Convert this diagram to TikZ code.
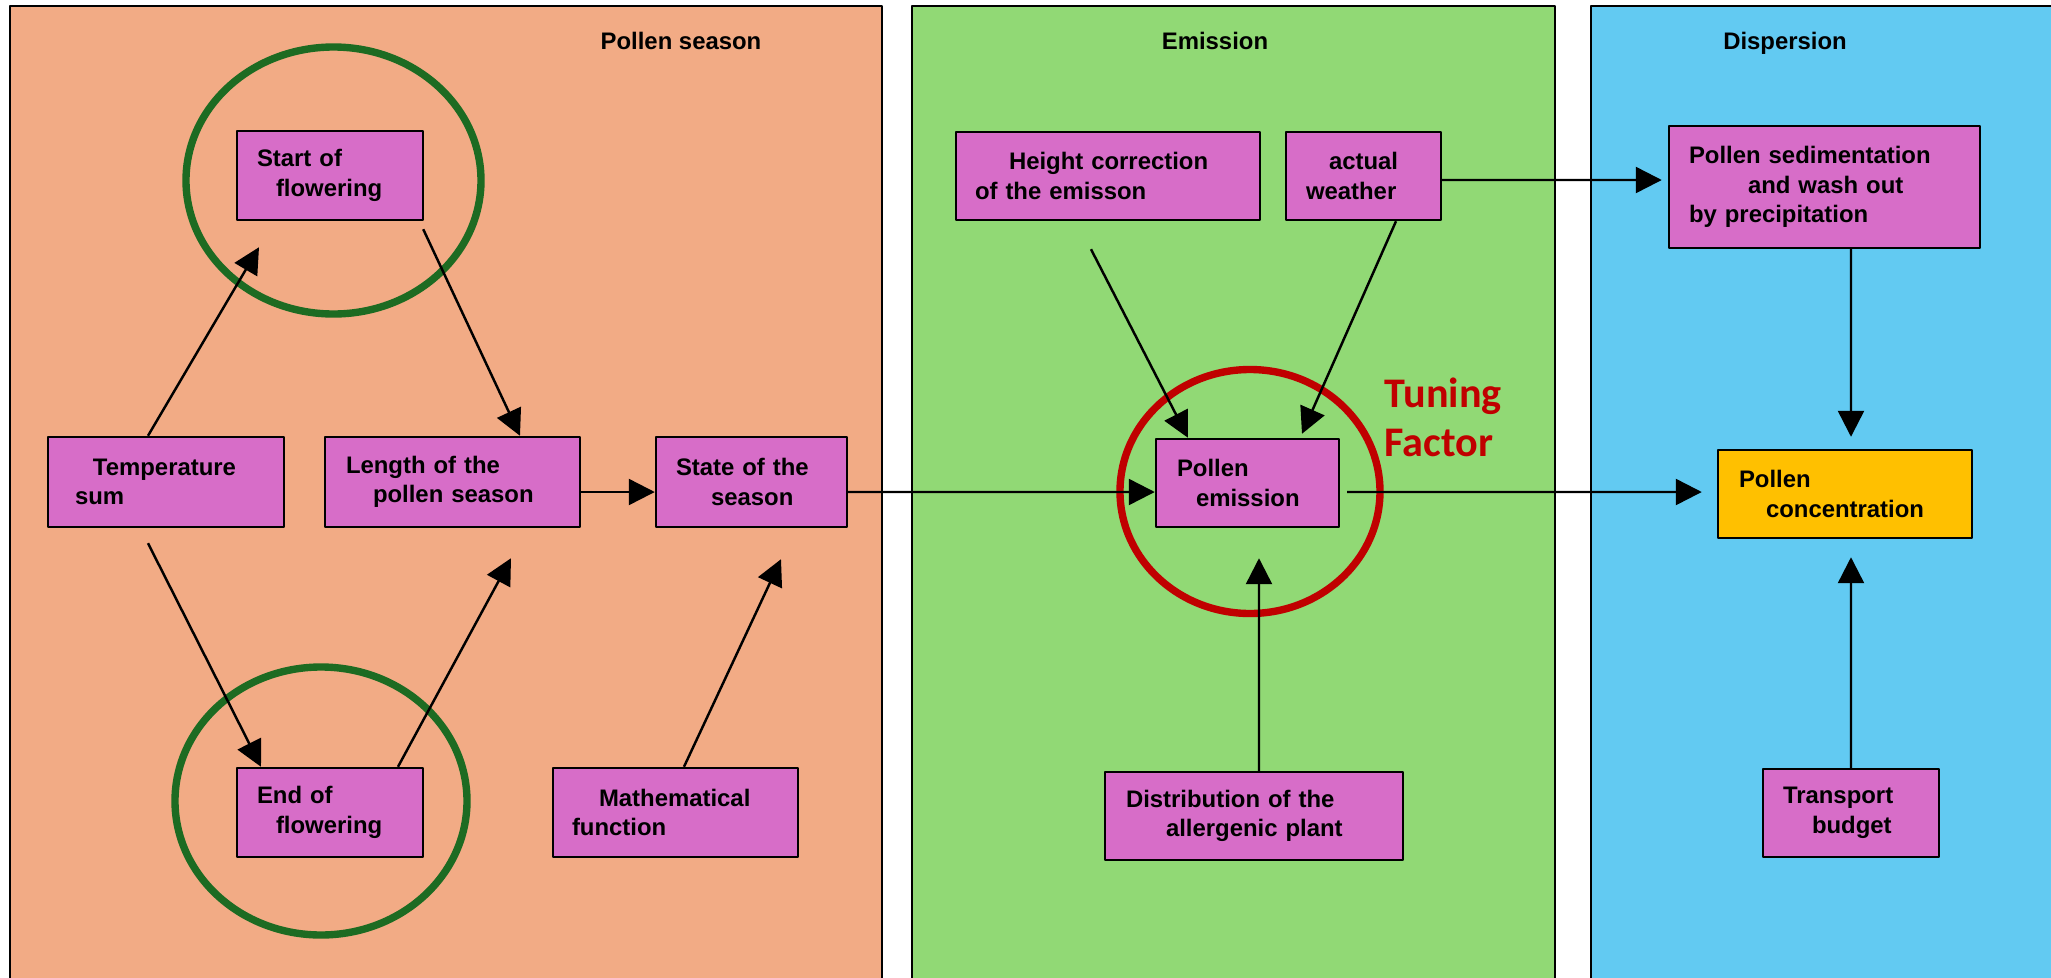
\documentclass[tikz,border=0pt]{standalone}
\usepackage{fontspec}
\setmainfont{Liberation Sans}
\newfontfamily\tunefont{Carlito}
\usetikzlibrary{arrows.meta}

\definecolor{seasonbg}{RGB}{242,171,133}
\definecolor{emisbg}{RGB}{145,217,117}
\definecolor{dispbg}{RGB}{98,202,242}
\definecolor{boxpink}{RGB}{215,109,200}
\definecolor{concbg}{RGB}{255,192,0}
\definecolor{tunered}{RGB}{192,0,0}
\definecolor{ringgreen}{RGB}{29,107,34}

\begin{document}
\begin{tikzpicture}[>={Triangle[length=2.6mm,width=2.6mm]}, line join=round,
  box/.style={draw, fill=boxpink, line width=0.7pt, align=left, inner ysep=0pt,
    font=\fontsize{6.8}{8.4}\selectfont\bfseries},
  title/.style={anchor=base, font=\fontsize{6.8}{8.4}\selectfont\bfseries},
  ring/.style={line width=2.1pt},
  link/.style={->, line width=0.7pt}]

  \useasboundingbox (0,0) rectangle (20.51,-9.78);

  %--------------------------
  % Panels
  %--------------------------
  \filldraw[fill=seasonbg, line width=0.6pt] (0.10,-0.06) rectangle (8.82,-10.2);
  \filldraw[fill=emisbg, line width=0.6pt] (9.12,-0.06) rectangle (15.55,-10.2);
  \filldraw[fill=dispbg, line width=0.6pt] (15.91,-0.06) rectangle (21.2,-10.2);

  \node[title] (seasontitle) at (6.81,-0.49) {Pollen season};
  \node[title] (emistitle) at (12.15,-0.49) {Emission};
  \node[title] (disptitle) at (17.85,-0.49) {Dispersion};

  %--------------------------
  % Pollen season
  %--------------------------
  \node[box, text width=1.46cm, inner xsep=0.20cm, minimum height=0.89cm] (start) at (3.30,-1.755) {Start of\\\hspace*{0.19cm}flowering};
  \node[box, text width=1.82cm, inner xsep=0.27cm, minimum height=0.90cm] (temp) at (1.66,-4.82) {\hspace*{0.18cm}Temperature\\sum};
  \node[box, text width=2.13cm, inner xsep=0.21cm, minimum height=0.90cm] (len) at (4.525,-4.82) {Length of the\\\hspace*{0.27cm}pollen season};
  \node[box, text width=1.51cm, inner xsep=0.20cm, minimum height=0.90cm] (state) at (7.515,-4.82) {State of the\\\hspace*{0.35cm}season};
  \node[box, text width=1.46cm, inner xsep=0.20cm, minimum height=0.89cm] (endf) at (3.30,-8.125) {End of\\\hspace*{0.19cm}flowering};
  \node[box, text width=2.07cm, inner xsep=0.19cm, minimum height=0.89cm] (math) at (6.755,-8.125) {\hspace*{0.27cm}Mathematical\\function};

  \draw[ring, ringgreen] (3.335,-1.805) ellipse (1.475 and 1.335);
  \draw[ring, ringgreen] (3.21,-8.01) ellipse (1.46 and 1.34);

  \draw[link] ([xshift=-0.18cm]temp.north) -- ([xshift=-0.71cm,yshift=-0.26cm]start.south);
  \draw[link] ([xshift=-0.01cm,yshift=-0.08cm]start.south east) -- ([xshift=0.675cm]len.north);
  \draw[link] ([xshift=-0.18cm,yshift=-0.15cm]temp.south) -- ([xshift=-0.69cm]endf.north);
  \draw[link] ([xshift=0.68cm]endf.north) -- ([xshift=0.585cm,yshift=-0.30cm]len.south);
  \draw[link] ([xshift=0.085cm]math.north) -- ([xshift=0.295cm,yshift=-0.31cm]state.south);
  \draw[link] ([yshift=-0.10cm]len.east) -- ([yshift=-0.10cm]state.west);

  %--------------------------
  % Emission
  %--------------------------
  \node[box, text width=2.66cm, inner xsep=0.19cm, minimum height=0.88cm] (height) at (11.08,-1.76) {\hspace*{0.34cm}Height correction\\of the emisson};
  \node[box, text width=1.15cm, inner xsep=0.20cm, minimum height=0.88cm] (weather) at (13.635,-1.76) {\hspace*{0.23cm}actual\\weather};
  \node[box, text width=1.41cm, inner xsep=0.21cm, minimum height=0.88cm] (emis) at (12.475,-4.83) {Pollen\\\hspace*{0.19cm}emission};
  \node[box, text width=2.56cm, inner xsep=0.21cm, minimum height=0.88cm] (distr) at (12.54,-8.16) {Distribution of the\\\hspace*{0.40cm}allergenic plant};

  \draw[ring, tunered] (12.50,-4.915) ellipse (1.30 and 1.22);
  \node[anchor=west, inner sep=0pt, align=left, text=tunered,
    font=\tunefont\fontsize{12}{14}\selectfont\bfseries] (tune) at (13.84,-4.175) {Tuning\\Factor};

  \draw[link] ([yshift=-0.10cm]state.east) -- ([yshift=-0.09cm]emis.west);
  \draw[link] ([xshift=-0.17cm,yshift=-0.28cm]height.south) -- ([xshift=-0.595cm]emis.north);
  \draw[link] ([xshift=0.325cm]weather.south) -- ([xshift=0.545cm,yshift=0.04cm]emis.north);
  \draw[link] ([xshift=0.05cm]distr.north) -- ([xshift=0.115cm,yshift=-0.30cm]emis.south);

  %--------------------------
  % Dispersion
  %--------------------------
  \node[box, text width=2.71cm, inner xsep=0.20cm, minimum height=1.22cm] (sedim) at (18.245,-1.87) {Pollen sedimentation\\\hspace*{0.59cm}and wash out\\by precipitation};
  \node[box, fill=concbg, text width=2.12cm, inner xsep=0.21cm, minimum height=0.88cm] (conc) at (18.45,-4.94) {Pollen\\\hspace*{0.27cm}concentration};
  \node[box, text width=1.36cm, inner xsep=0.20cm, minimum height=0.88cm] (transp) at (18.51,-8.13) {Transport\\\hspace*{0.29cm}budget};

  \draw[link] ([xshift=0.07cm,yshift=-0.09cm]emis.east) -- ([xshift=-0.15cm,yshift=0.02cm]conc.west);
  \draw[link] ([yshift=-0.04cm]weather.east) -- ([xshift=-0.06cm,yshift=0.07cm]sedim.west);
  \draw[link] ([xshift=0.265cm]sedim.south) -- ([xshift=0.06cm,yshift=0.12cm]conc.north);
  \draw[link] (transp.north) -- ([xshift=0.06cm,yshift=-0.18cm]conc.south);

\end{tikzpicture}
\end{document}
